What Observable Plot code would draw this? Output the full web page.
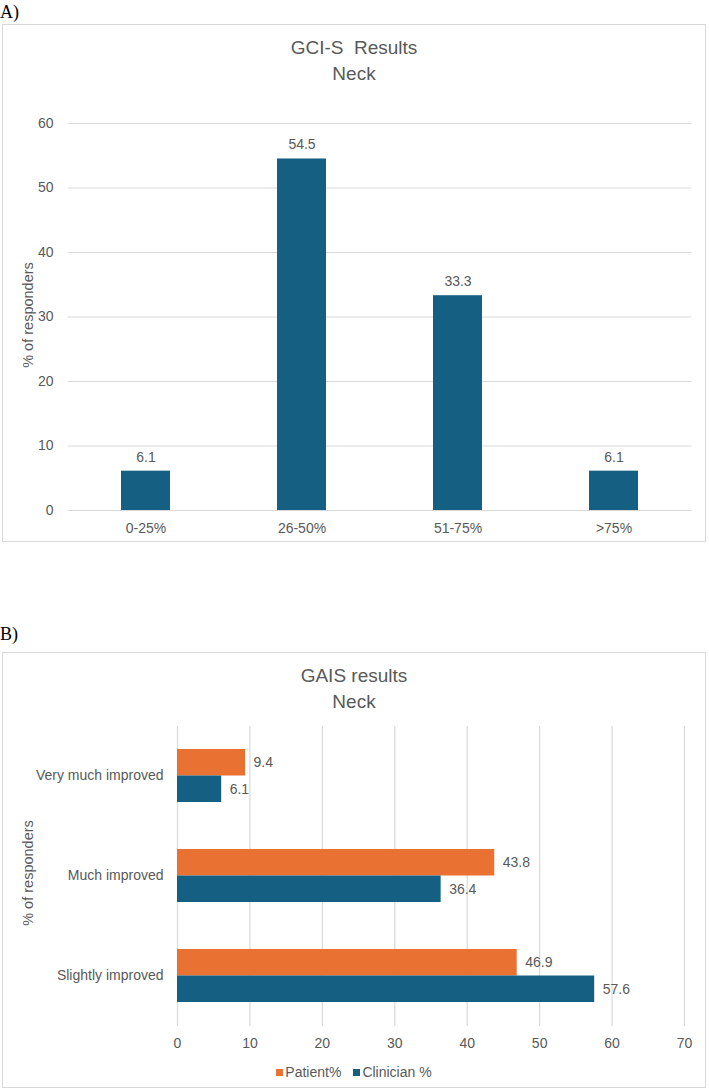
<!DOCTYPE html>
<html>
<head>
<meta charset="utf-8">
<script src="https://cdn.jsdelivr.net/npm/d3@7"></script>
<script src="https://cdn.jsdelivr.net/npm/@observablehq/plot@0.6"></script>
<style>
  html, body { margin: 0; padding: 0; background: #ffffff; }
  #page { position: relative; width: 709px; height: 1092px; overflow: hidden; font-family: "Liberation Sans", Arial, sans-serif; color: #595959; }
  .panel-label { position: absolute; left: 0; font-family: "Liberation Serif", "Times New Roman", serif; font-size: 18px; color: #000; line-height: 20px; }
  .box { position: absolute; left: 2px; width: 702px; border: 1.5px solid #d9d9d9; box-sizing: content-box; }
  .title { position: absolute; left: 2px; width: 704px; text-align: center; font-size: 19px; line-height: 26px; color: #595959; white-space: pre; }
  .ylab { position: absolute; font-size: 14.5px; white-space: nowrap; transform: translate(-50%, -50%) rotate(-90deg); color: #595959; }
  .chart { position: absolute; left: 2px; }
  .legend { position: absolute; left: 2px; width: 704px; text-align: center; font-size: 14px; color: #595959; }
  .legend span.sw { display: inline-block; width: 7px; height: 7px; margin-right: 2px; vertical-align: 1px; }
  .legend span.item { margin: 0 6px; }
</style>
</head>
<body>
<div id="page">
  <div class="panel-label" style="top:2px;">A)</div>
  <div class="box" style="top:24px; height:516px;"></div>
  <div class="title" style="top:35px;">GCI-S  Results
Neck</div>
  <div class="ylab" style="left:28px; top:315px;">% of responders</div>
  <div class="chart" id="chartA" style="top:24px;"></div>

  <div class="panel-label" style="top:624px;">B)</div>
  <div class="box" style="top:652px; height:434px;"></div>
  <div class="title" style="top:663px;">GAIS results
Neck</div>
  <div class="ylab" style="left:28px; top:873px;">% of responders</div>
  <div class="chart" id="chartB" style="top:652px;"></div>
  <div class="legend" id="legendB" style="top:1064px;"></div>
</div>
<script>
// ---- Data: panel A (GCI-S) ----
const gciCategories = ["0-25%", "26-50%", "51-75%", ">75%"];
const gciValues = [6.1, 54.5, 33.3, 6.1];
const gciTicks = [0, 10, 20, 30, 40, 50, 60];

// ---- Data: panel B (GAIS) ----
const gaisCategories = ["Very much improved", "Much improved", "Slightly improved"];
const patientValues = [9.4, 43.8, 46.9];
const clinicianValues = [6.1, 36.4, 57.6];
const gaisTicks = [0, 10, 20, 30, 40, 50, 60, 70];
const seriesNames = ["Patient%", "Clinician %"];
const seriesColors = ["#E97132", "#156082"];

const FONT = "'Liberation Sans', Arial, sans-serif";
const TXT = "#595959";
const GRID = "#d9d9d9";
const FS = 14;

const dataA = gciCategories.map((c, i) => ({cat: c, value: gciValues[i]}));
const dataB = gaisCategories.map((c, i) => ({cat: c, patient: patientValues[i], clinician: clinicianValues[i]}));

const chartA = Plot.plot({
  width: 704, height: 518,
  marginLeft: 65.5, marginRight: 14.5, marginTop: 99, marginBottom: 32,
  style: {fontFamily: FONT, fontSize: FS + "px", color: TXT, background: "transparent"},
  x: {domain: gciCategories, paddingInner: 0.686, paddingOuter: 0.343, label: null},
  y: {domain: [0, 60], label: null},
  marks: [
    Plot.gridY(gciTicks, {stroke: GRID, strokeOpacity: 1, strokeWidth: 1.2}),
    Plot.barY(dataA, {x: "cat", y: "value", fill: seriesColors[1]}),
    Plot.text(dataA, {x: "cat", y: "value", text: d => d.value.toFixed(1), dy: -14, fill: TXT, fontSize: FS}),
    Plot.axisX({tickSize: 0, tickPadding: 13, label: null, fontSize: FS, fill: TXT}),
    Plot.axisY(gciTicks, {tickSize: 0, tickPadding: 14.5, label: null, fontSize: FS, fill: TXT})
  ]
});
document.getElementById("chartA").append(chartA);

const chartB = Plot.plot({
  width: 704, height: 436,
  marginLeft: 175, marginRight: 22, marginTop: 74, marginBottom: 62,
  style: {fontFamily: FONT, fontSize: FS + "px", color: TXT, background: "transparent"},
  x: {domain: [0, 70], label: null},
  y: {domain: gaisCategories, paddingInner: 0.47, paddingOuter: 0.235, label: null},
  marks: [
    Plot.gridX(gaisTicks, {stroke: GRID, strokeOpacity: 1, strokeWidth: 1.2}),
    Plot.barX(dataB, {x: "patient", y: "cat", fill: seriesColors[0], insetBottom: 26.5}),
    Plot.barX(dataB, {x: "clinician", y: "cat", fill: seriesColors[1], insetTop: 26.5}),
    Plot.text(dataB, {x: "patient", y: "cat", text: d => d.patient.toFixed(1), dx: 8, dy: -13.25, textAnchor: "start", fill: TXT, fontSize: FS}),
    Plot.text(dataB, {x: "clinician", y: "cat", text: d => d.clinician.toFixed(1), dx: 8, dy: 13.25, textAnchor: "start", fill: TXT, fontSize: FS}),
    Plot.axisX(gaisTicks, {tickSize: 0, tickPadding: 12, label: null, fontSize: FS, fill: TXT}),
    Plot.axisY({tickSize: 0, tickPadding: 14, label: null, fontSize: FS, fill: TXT})
  ]
});
document.getElementById("chartB").append(chartB);

// Legend
const legend = document.getElementById("legendB");
seriesNames.forEach((name, i) => {
  const item = document.createElement("span");
  item.className = "item";
  const sw = document.createElement("span");
  sw.className = "sw";
  sw.style.background = seriesColors[i];
  item.append(sw, document.createTextNode(name));
  legend.append(item);
});
</script>
</body>
</html>
